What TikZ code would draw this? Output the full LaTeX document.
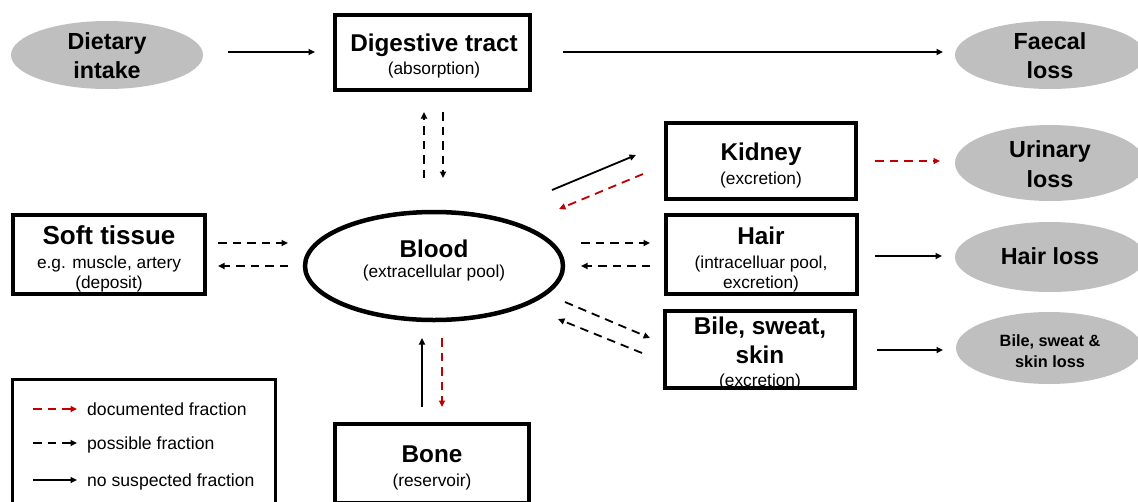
\documentclass[tikz,border=0pt]{standalone}
\usepackage{fontspec}
\setmainfont{Liberation Sans}
\usetikzlibrary{arrows.meta,calc,shapes.geometric}
\definecolor{lossgray}{RGB}{191,191,191}
\definecolor{docred}{RGB}{192,0,0}
\tikzset{
  organ/.style={draw, line width=4pt, rectangle, inner sep=0pt, outer sep=0pt},
  lossell/.style={ellipse, fill=lossgray, draw=none, inner sep=0pt, outer sep=0pt},
  ttl/.style={anchor=base, inner sep=0pt, font=\fontsize{24.3}{28}\selectfont\bfseries},
  sub/.style={anchor=base, inner sep=0pt, font=\fontsize{17.3}{20}\selectfont},
  losst/.style={anchor=base, inner sep=0pt, font=\fontsize{23.3}{28}\selectfont\bfseries},
  arr/.style={line width=1.8pt, -{Triangle[length=6.5pt,width=6pt]}},
  possible/.style={arr, dash pattern=on 8.5pt off 6pt},
  documented/.style={possible, draw=docred, -{Triangle[length=6.5pt,width=6pt,fill=docred]}},
  legt/.style={anchor=base west, inner sep=0pt, font=\fontsize{17.6}{20}\selectfont},
}
\begin{document}
\begin{tikzpicture}[x=1pt, y=-1pt]
\useasboundingbox (0,0) rectangle (1138,501);
\clip (0,0) rectangle (1138,501);
% grey loss ellipses
\node[lossell, minimum width=192pt, minimum height=68pt] (diet) at (107,55) {};
\node[losst] at (107,49) {Dietary};
\node[losst] at (107,78) {intake};
\node[lossell, minimum width=190pt, minimum height=68pt] (faecal) at (1050,55) {};
\node[losst] at (1050,49) {Faecal};
\node[losst] at (1050,78) {loss};
\node[lossell, minimum width=190pt, minimum height=76pt] (urinary) at (1050,163) {};
\node[losst] at (1050,157) {Urinary};
\node[losst] at (1050,187) {loss};
\node[lossell, minimum width=190pt, minimum height=70pt] (hairloss) at (1050,257) {};
\node[losst] at (1050,264.5) {Hair loss};
\node[lossell, minimum width=186pt, minimum height=72pt] (bileloss) at (1049,348) {};
\node[anchor=base, inner sep=0pt, font=\fontsize{16.3}{19}\selectfont\bfseries] at (1050,346) {Bile, sweat \&};
\node[anchor=base, inner sep=0pt, font=\fontsize{16.3}{19}\selectfont\bfseries] at (1050,367) {skin loss};
% organ boxes
\node[organ, minimum width=195pt, minimum height=75pt] (dig) at (432.5,52.5) {};
\node[ttl] at (434,51) {Digestive tract};
\node[sub] at (434,74) {(absorption)};
\node[organ, minimum width=190pt, minimum height=76pt] (kidney) at (761,161) {};
\node[ttl] at (761,160) {Kidney};
\node[sub] at (761,184) {(excretion)};
\node[organ, minimum width=191pt, minimum height=79pt] (hair) at (761.5,254.5) {};
\node[ttl] at (761,244.5) {Hair};
\node[sub] at (761,268) {(intracelluar pool,};
\node[sub] at (761,288) {excretion)};
\node[organ, minimum width=190pt, minimum height=77pt] (bile) at (760,349.5) {};
\node[ttl] at (760,334.5) {Bile, sweat,};
\node[ttl] at (760,363.5) {skin};
\node[sub] at (760,386) {(excretion)};
\node[organ, minimum width=192pt, minimum height=79pt] (soft) at (109,254.5) {};
\node[anchor=base, inner sep=0pt, font=\fontsize{26}{30}\selectfont\bfseries] at (109,244) {Soft tissue};
\node[sub] at (109,268) {e.g. muscle, artery};
\node[sub] at (109,288) {(deposit)};
\node[organ, minimum width=194pt, minimum height=79pt] (bone) at (432,463.5) {};
\node[ttl] at (432,462.5) {Bone};
\node[sub] at (432,486) {(reservoir)};
% blood
\node[draw, ellipse, line width=4.5pt, minimum width=258pt, minimum height=108pt, inner sep=0pt, outer sep=0pt] (blood) at (434,266) {};
\node[ttl] at (434,257.5) {Blood};
\node[sub] at (434,277) {(extracellular pool)};
% connectors
\draw[arr] ($(diet)+(121,-3)$) -- ($(dig)+(-117.5,-0.5)$);
\draw[arr] ($(dig)+(130.5,-0.5)$) -- ($(faecal)+(-107,-3)$);
\draw[possible] ($(blood)+(-10,-88)$) -- ($(dig)+(-8.5,59.5)$);
\draw[possible] ($(dig)+(10.5,59.5)$) -- ($(blood)+(9,-88)$);
\draw[arr] ($(blood)+(118,-76)$) -- ($(kidney)+(-125,-6)$);
\draw[documented] ($(kidney)+(-118,13)$) -- ($(blood)+(125,-57)$);
\draw[documented] ($(kidney)+(114,0)$) -- ($(urinary)+(-110,-2)$);
\draw[possible] ($(blood)+(147,-23)$) -- ($(hair)+(-111.5,-11.5)$);
\draw[possible] ($(hair)+(-111.5,11.5)$) -- ($(blood)+(147,0)$);
\draw[arr] ($(hair)+(113.5,1.5)$) -- ($(hairloss)+(-108,-1)$);
\draw[possible] ($(blood)+(131,36)$) -- ($(bile)+(-110,-11.5)$);
\draw[possible] ($(bile)+(-118,3.5)$) -- ($(blood)+(124,53)$);
\draw[arr] ($(bile)+(117,0.5)$) -- ($(bileloss)+(-106,2)$);
\draw[possible] ($(soft)+(109,-11.5)$) -- ($(blood)+(-146,-23)$);
\draw[possible] ($(blood)+(-146,0)$) -- ($(soft)+(109,11.5)$);
\draw[arr] ($(bone)+(-10,-56.5)$) -- ($(blood)+(-12,72)$);
\draw[documented] ($(blood)+(8,72)$) -- ($(bone)+(10,-56.5)$);
% legend
\node[draw, line width=3pt, rectangle, minimum width=263pt, minimum height=130pt, inner sep=0pt, outer sep=0pt] (legend) at (144,444.5) {};
\coordinate (l1a) at (33,409); \coordinate (l1b) at (77,409);
\coordinate (l2a) at (33,443); \coordinate (l2b) at (77,443);
\coordinate (l3a) at (33,480); \coordinate (l3b) at (77,480);
\draw[documented] (l1a) -- (l1b);
\draw[possible] (l2a) -- (l2b);
\draw[arr] (l3a) -- (l3b);
\node[legt] at (87,415) {documented fraction};
\node[legt] at (87,449) {possible fraction};
\node[legt] at (87,486) {no suspected fraction};
\end{tikzpicture}
\end{document}
